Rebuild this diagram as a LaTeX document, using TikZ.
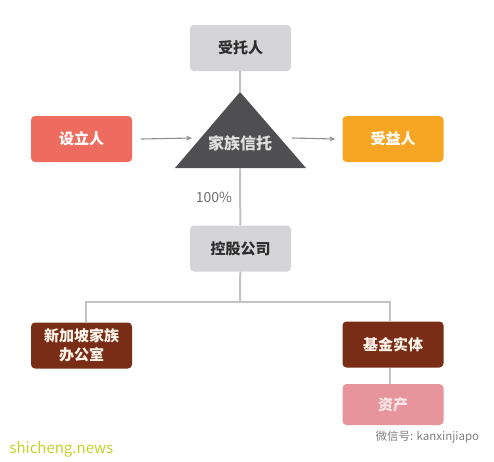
\documentclass[tikz,border=0pt]{standalone}
\usepackage{fontspec}
\setmainfont{Noto Sans CJK SC}
\usetikzlibrary{arrows.meta}
\definecolor{boxgray}{HTML}{D5D5D7}
\definecolor{textdark}{HTML}{2E2E2E}
\definecolor{settlorred}{HTML}{EE6B5F}
\definecolor{benorange}{HTML}{F6A623}
\definecolor{trustdark}{HTML}{4F4F51}
\definecolor{entitybrown}{HTML}{7A2D16}
\definecolor{assetpink}{HTML}{E8949C}
\definecolor{linegray}{HTML}{C2C2C4}
\definecolor{arrowgray}{HTML}{8E8E90}
\definecolor{newsgreen}{HTML}{C6D12C}

\begin{document}
\begin{tikzpicture}[x=1pt,y=-1pt,
    box/.style={rectangle,rounded corners=4pt,minimum width=101pt,minimum height=46pt,inner sep=0pt,align=center,font=\fontsize{15}{19}\selectfont\bfseries},
    link/.style={draw=linegray,line width=2pt},
    flow/.style={draw=arrowgray,line width=1.1pt,-{Stealth[length=6pt,width=5pt]}}]
\useasboundingbox (0,0) rectangle (494,461);
\node[box,fill=boxgray,text=textdark] (trustee) at (240.5,48) {受托人};
\node[box,fill=settlorred,text=white] (settlor) at (81.5,139) {设立人};
\node[box,fill=benorange,text=white] (beneficiary) at (393,139) {受益人};
\coordinate (apex) at (240,92);
\coordinate (base) at (240,168);
\coordinate (tleft) at (201,138);
\coordinate (tright) at (280,138);
\fill[trustdark] (apex) -- (306,168) -- (175,168) -- cycle;
\node[text=white!88!black,font=\fontsize{16}{19}\selectfont\bfseries] (trust) at (240,143) {家族信托};
\node[text=textdark!70,font=\fontsize{14}{14}\selectfont] (share) at (214,197) {100\%};
\node[box,fill=boxgray,text=textdark] (holding) at (240.5,248.5) {控股公司};
\coordinate (split) at (240,302);
\node[box,fill=entitybrown,text=white!92!orange] (office) at (81.5,345.5) {新加坡家族\\办公室};
\node[box,fill=entitybrown,text=white!92!orange] (fund) at (393,344.5) {基金实体};
\node[box,fill=assetpink,text=white!80!assetpink,minimum height=41pt] (asset) at (393,404.5) {资产};
\draw[link] (trustee) -- (apex);
\draw[link] (base) -- (holding);
\draw[link] (holding) -- (split);
\draw[link] ([xshift=4pt]office.north) |- (split) -| ([xshift=-3pt]fund.north);
\draw[link] ([xshift=-3pt]fund.south) -- ([xshift=-3pt]asset.north);
\draw[flow] ([xshift=9pt]settlor.east) -- ([xshift=-9pt]tleft);
\draw[flow] ([xshift=12pt]tright) -- ([xshift=-7pt]beneficiary.west);
\node[text=newsgreen,font=\fontsize{15}{15}\selectfont,anchor=west] (site) at (6,449) {shicheng.news};
\node[text=gray,font=\fontsize{11.5}{11.5}\selectfont,anchor=west] (wechat) at (372,437) {微信号: kanxinjiapo};
\end{tikzpicture}
\end{document}
